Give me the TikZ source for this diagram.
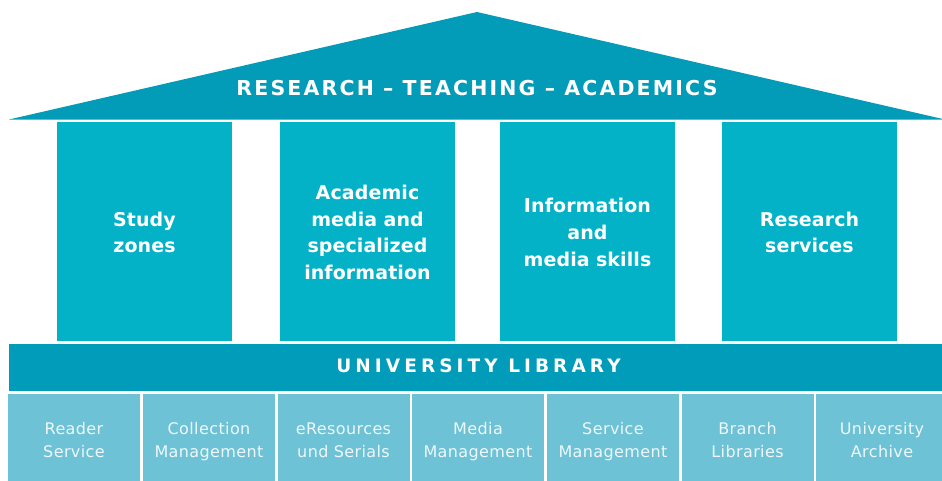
\documentclass[tikz,border=0pt]{standalone}
\usepackage{fontspec}
\setmainfont{DejaVu Sans}
\newfontfamily\titlefont[LetterSpace=10.5]{DejaVu Sans}
\newfontfamily\bandfont[LetterSpace=22]{DejaVu Sans}
\newfontfamily\pillarfont[LetterSpace=0.5]{DejaVu Sans}
\newfontfamily\deptfont[LetterSpace=2.5]{DejaVu Sans}
\definecolor{roofc}{HTML}{029CB9}
\definecolor{pillarc}{HTML}{04B2C8}
\definecolor{bandc}{HTML}{019CB9}
\definecolor{deptc}{HTML}{6EC2D6}
\definecolor{depttext}{HTML}{EEF8FB}
\tikzset{
  pillar/.style={rectangle, fill=pillarc, inner sep=0pt, minimum width=175pt, minimum height=219pt},
  ptext/.style={inner sep=0pt, text width=170pt, align=center, text=white,
    font=\pillarfont\bfseries\fontsize{19}{26.6}\selectfont},
  band/.style={rectangle, fill=bandc, inner sep=0pt, minimum width=939pt, minimum height=47pt,
    text depth=3pt, text=white, font=\bandfont\bfseries\fontsize{18.5}{20}\selectfont},
  dept/.style={rectangle, fill=deptc, inner sep=0pt, minimum width=132pt, minimum height=90pt},
  dtext/.style={inner sep=0pt, text width=130pt, align=center, text=depttext, text depth=4pt,
    font=\deptfont\fontsize{16}{23}\selectfont},
  rooftext/.style={text=white, inner sep=0pt, font=\titlefont\bfseries\fontsize{20.5}{24}\selectfont}
}
\begin{document}
\begin{tikzpicture}[x=1pt,y=-1pt]
\useasboundingbox (0,0) rectangle (942,480);
\clip (0,0) rectangle (942,480);
\fill[white] (0,0) rectangle (942,480);
% roof
\fill[roofc] (9,119.5) -- (477,12) -- (945,119.5) -- cycle;
\node[rooftext] (title) at (477,88) {RESEARCH – TEACHING – ACADEMICS};
% pillars
\node[pillar] (p1) at (144.5,231.5) {};
\node[pillar] (p2) at (367.5,231.5) {};
\node[pillar] (p3) at (587.5,231.5) {};
\node[pillar] (p4) at (809.5,231.5) {};
\node[ptext] (p1t) at ([yshift=-1pt]p1.center) {Study\\zones};
\node[ptext] (p2t) at ([yshift=-1pt]p2.center) {Academic\\media and\\specialized\\information};
\node[ptext] (p3t) at ([yshift=-1pt]p3.center) {Information\\and\\media skills};
\node[ptext] (p4t) at ([yshift=-1pt]p4.center) {Research\\services};
% band
\node[band] (lib) at (478.5,367.5) {UNIVERSITY LIBRARY};
% departments
\node[dept] (d1) at (74,439) {};
\node[dept] (d2) at (209,439) {};
\node[dept] (d3) at (343.5,439) {};
\node[dept] (d4) at (478,439) {};
\node[dept] (d5) at (613,439) {};
\node[dept] (d6) at (747.5,439) {};
\node[dept] (d7) at (882,439) {};
\node[dtext] (d1t) at ([yshift=8.6pt]d1.center) {Reader\\Service};
\node[dtext] (d2t) at ([yshift=8.6pt]d2.center) {Collection\\Management};
\node[dtext] (d3t) at ([yshift=8.6pt]d3.center) {eResources\\und Serials};
\node[dtext] (d4t) at ([yshift=8.6pt]d4.center) {Media\\Management};
\node[dtext] (d5t) at ([yshift=8.6pt]d5.center) {Service\\Management};
\node[dtext] (d6t) at ([yshift=8.6pt]d6.center) {Branch\\Libraries};
\node[dtext] (d7t) at ([yshift=8.6pt]d7.center) {University\\Archive};
\end{tikzpicture}
\end{document}
